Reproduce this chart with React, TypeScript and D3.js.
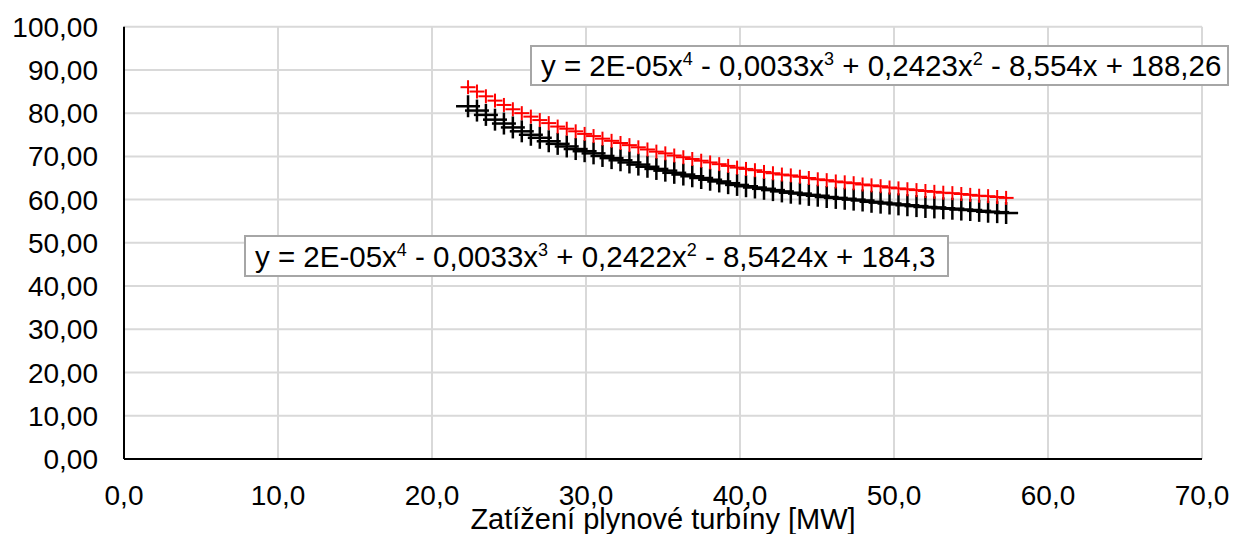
import React from "react";
import * as d3 from "d3";

// zatížení plynové turbíny [MW]
const loadMW = [
  22.34, 22.92, 23.5, 24.09, 24.67, 25.25, 25.83, 26.42, 27.0, 27.58,
  28.16, 28.75, 29.33, 29.91, 30.49, 31.07, 31.66, 32.24, 32.82, 33.4,
  33.99, 34.57, 35.15, 35.73, 36.32, 36.9, 37.48, 38.06, 38.65, 39.23,
  39.81, 40.39, 40.97, 41.56, 42.14, 42.72, 43.3, 43.89, 44.47, 45.05,
  45.63, 46.22, 46.8, 47.38, 47.96, 48.54, 49.13, 49.71, 50.29, 50.87,
  51.46, 52.04, 52.62, 53.2, 53.79, 54.37, 54.95, 55.53, 56.11, 56.7,
  57.28,
];

const redSeries = [
  86.0, 85.0, 83.9, 82.9, 81.9, 80.9, 80.0, 79.2, 78.4, 77.7,
  76.9, 76.4, 75.8, 75.2, 74.7, 74.1, 73.6, 73.1, 72.6, 72.1,
  71.6, 71.1, 70.7, 70.2, 69.8, 69.4, 69.0, 68.6, 68.2, 67.8,
  67.4, 67.1, 66.8, 66.4, 66.1, 65.8, 65.6, 65.3, 65.0, 64.7,
  64.5, 64.2, 64.0, 63.8, 63.5, 63.3, 63.1, 62.8, 62.6, 62.4,
  62.2, 62.0, 61.8, 61.6, 61.5, 61.3, 61.1, 60.9, 60.8, 60.6,
  60.4,
];

const blackSeries = [
  81.6, 80.6, 79.6, 78.5, 77.6, 76.7, 75.8, 75.0, 74.3, 73.5,
  72.9, 72.3, 71.7, 71.2, 70.7, 70.1, 69.6, 69.1, 68.6, 68.1,
  67.6, 67.1, 66.7, 66.2, 65.8, 65.4, 65.0, 64.6, 64.2, 63.8,
  63.4, 63.1, 62.8, 62.5, 62.2, 61.9, 61.6, 61.4, 61.1, 60.9,
  60.6, 60.4, 60.2, 60.0, 59.8, 59.5, 59.3, 59.1, 58.9, 58.7,
  58.5, 58.3, 58.2, 58.0, 57.9, 57.7, 57.6, 57.4, 57.2, 57.1,
  56.9,
];

const xTicks = [0, 10, 20, 30, 40, 50, 60, 70];
const yTicks = [0, 10, 20, 30, 40, 50, 60, 70, 80, 90, 100];

// rovnice trendu: [text, exponent] kousky
const redEquation: [string, string][] = [
  ["y = 2E-05x", "4"], [" - 0,0033x", "3"], [" + 0,2423x", "2"], [" - 8,554x + 188,26", ""],
];
const blackEquation: [string, string][] = [
  ["y = 2E-05x", "4"], [" - 0,0033x", "3"], [" + 0,2422x", "2"], [" - 8,5424x + 184,3", ""],
];

const W = 1235;
const H = 534;
const FONT = "'Liberation Sans', Arial, sans-serif";

const locale = d3.formatLocale({ decimal: ",", thousands: " ", grouping: [3], currency: ["", ""] });
const fmtY = locale.format(".2f");
const fmtX = locale.format(".1f");

const Equation = ({ parts, x, y, w, h }: { parts: [string, string][]; x: number; y: number; w: number; h: number }) => {
  // po exponentu se další kus vrací na účaří
  const spans: { t: string; sup: boolean; dy: number }[] = [];
  let raised = false;
  parts.forEach(([t, sup]) => {
    spans.push({ t, sup: false, dy: raised ? 11 : 0 });
    raised = false;
    if (sup) {
      spans.push({ t: sup, sup: true, dy: -11 });
      raised = true;
    }
  });
  return (
    <g>
      <rect x={x} y={y} width={w} height={h} fill="white" stroke="#a6a6a6" strokeWidth={2} />
      <text x={x + 10} y={y + h / 2 + 10.5} fontSize={29.5} fontFamily={FONT} fill="#000">
        {spans.map((s, i) => (
          <tspan key={i} dy={s.dy || undefined} fontSize={s.sup ? 18 : undefined}>
            {s.t}
          </tspan>
        ))}
      </text>
    </g>
  );
};

export default function App() {
  const x = d3.scaleLinear().domain([0, 70]).range([124, 1202]);
  const y = d3.scaleLinear().domain([0, 100]).range([459, 26.7]);

  const black = loadMW.map((d, i) => [x(d), y(blackSeries[i])]);
  const red = loadMW.map((d, i) => [x(d), y(redSeries[i])]);

  return (
    <div>
      <style>{`body{margin:0}`}</style>
      <svg width={W} height={H} style={{ display: "block", background: "white" }}>
        {/* mřížka */}
        {yTicks.map((t) => (
          <line key={"gy" + t} x1={x(0)} x2={x(70)} y1={y(t)} y2={y(t)} stroke="#d9d9d9" strokeWidth={2} />
        ))}
        {xTicks.map((t) => (
          <line key={"gx" + t} x1={x(t)} x2={x(t)} y1={y(0)} y2={y(100)} stroke="#d9d9d9" strokeWidth={2} />
        ))}
        {/* osy */}
        <line x1={x(0)} x2={x(0)} y1={y(0)} y2={y(100)} stroke="#000" strokeWidth={2} />
        <line x1={x(0)} x2={x(70)} y1={y(0)} y2={y(0)} stroke="#000" strokeWidth={2} />

        {yTicks.map((t) => (
          <text key={"ly" + t} x={98} y={y(t)} dy="0.36em" textAnchor="end" fontSize={28} fontFamily={FONT} fill="#000">
            {fmtY(t)}
          </text>
        ))}
        {xTicks.map((t) => (
          <text key={"lx" + t} x={x(t)} y={505} textAnchor="middle" fontSize={28} fontFamily={FONT} fill="#000">
            {fmtX(t)}
          </text>
        ))}
        <text x={(x(0) + x(70)) / 2} y={529} textAnchor="middle" fontSize={29} fontFamily={FONT} fill="#000">
          Zatížení plynové turbíny [MW]
        </text>

        {/* černá řada */}
        {black.map(([cx, cy], i) => (
          <g key={"b" + i} stroke="#000" strokeWidth={2.5}>
            <line x1={cx - 12} x2={cx + 12} y1={cy} y2={cy} />
            <line x1={cx} x2={cx} y1={cy - 11} y2={cy + 11} />
          </g>
        ))}
        {/* červená řada */}
        {red.map(([cx, cy], i) => (
          <g key={"r" + i} stroke="#ff0000" strokeWidth={2}>
            <line x1={cx - 7.5} x2={cx + 7.5} y1={cy} y2={cy} />
            <line x1={cx} x2={cx} y1={cy - 7} y2={cy + 7} />
          </g>
        ))}

        <Equation parts={redEquation} x={531} y={46} w={697} h={39} />
        <Equation parts={blackEquation} x={245} y={236} w={703} h={40} />
      </svg>
    </div>
  );
}
